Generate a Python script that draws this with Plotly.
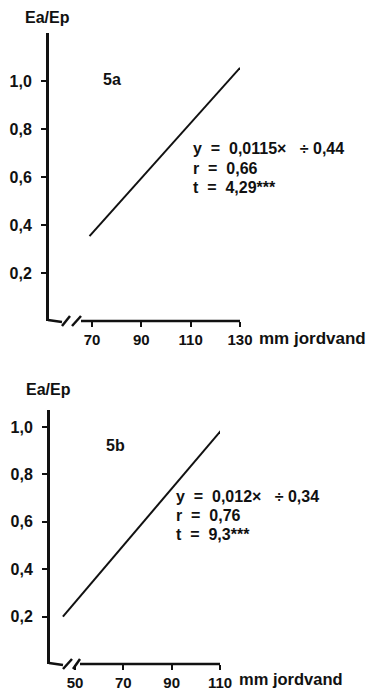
import plotly.graph_objects as go

W, H = 367, 690
FONT = "Liberation Sans, Arial, Helvetica, sans-serif"
INK = "#111111"
NB = "\u00a0"

# Panel 5a: regression line of Ea/Ep on soil water
a_xticks = [70, 90, 110, 130]
a_slope, a_intercept = 0.0115, 0.44
a_x = [69, 130]
a_lines = [f"y{NB}{NB}={NB}{NB}0,0115×{NB}{NB}{NB}÷{NB}0,44", f"r{NB}{NB}={NB}{NB}0,66", f"t{NB}{NB}={NB}{NB}4,29***"]

# Panel 5b
b_xticks = [50, 70, 90, 110]
b_slope, b_intercept = 0.012, 0.34
b_x = [45, 110.5]
b_lines = [f"y{NB}{NB}={NB}{NB}0,012×{NB}{NB}{NB}÷{NB}0,34", f"r{NB}{NB}={NB}{NB}0,76", f"t{NB}{NB}={NB}{NB}9,3***"]

y_ticks = [0.2, 0.4, 0.6, 0.8, 1.0]
y_text = ["0,2", "0,4", "0,6", "0,8", "1,0"]


def px(x):
    return x / W


def py(y):
    return 1 - y / H


fig = go.Figure()

a_y = [a_slope * v - a_intercept for v in a_x]
b_y = [b_slope * v - b_intercept for v in b_x]

fig.add_trace(go.Scatter(x=a_x, y=a_y, mode="lines", line=dict(color=INK, width=2),
                         xaxis="x", yaxis="y", showlegend=False, hoverinfo="skip"))
fig.add_trace(go.Scatter(x=b_x, y=b_y, mode="lines", line=dict(color=INK, width=2),
                         xaxis="x2", yaxis="y2", showlegend=False, hoverinfo="skip"))

ytickfont = dict(family=FONT, size=16, color=INK, weight="bold")
xtickfont = dict(family=FONT, size=15, color=INK, weight="bold")

common_y = dict(showline=True, linecolor=INK, linewidth=3, ticks="outside", ticklen=5,
                tickwidth=2, tickcolor=INK, tickvals=y_ticks, ticktext=y_text,
                tickfont=ytickfont, showgrid=False, zeroline=False, ticklabelstandoff=6,
                automargin=False)
common_x = dict(showline=False, ticks="outside", ticklen=5, tickwidth=2, tickcolor=INK,
                tickfont=xtickfont, showgrid=False, zeroline=False, automargin=False)

fig.update_layout(
    width=W, height=H,
    margin=dict(l=0, r=0, t=0, b=0, pad=0),
    paper_bgcolor="white", plot_bgcolor="white",
    xaxis=dict(domain=[px(49), px(240)], range=[52.57, 130], anchor="y",
               tickvals=a_xticks, ticktext=[str(v) for v in a_xticks], **common_x),
    yaxis=dict(domain=[py(321), py(33)], range=[0, 1.2], anchor="x", **common_y),
    xaxis2=dict(domain=[px(50), px(220)], range=[39.66, 110], anchor="y2",
                tickvals=b_xticks, ticktext=[str(v) for v in b_xticks], **common_x),
    yaxis2=dict(domain=[py(664), py(410)], range=[0, 1.072], anchor="x2", **common_y),
)

# Broken x axes drawn as segments with a double-slash break
shapes = []


def broken_axis(y0, left, brk, right):
    line = dict(color=INK, width=2.5)
    shapes.append(dict(type="line", xref="paper", yref="paper", x0=px(left), y0=py(y0 - 1),
                       x1=px(brk[0]), y1=py(y0 + 1), line=line))
    shapes.append(dict(type="line", xref="paper", yref="paper", x0=px(brk[0]), y0=py(y0 + 5),
                       x1=px(brk[1]), y1=py(y0 - 5), line=line))
    shapes.append(dict(type="line", xref="paper", yref="paper", x0=px(brk[2]), y0=py(y0 + 5),
                       x1=px(brk[3]), y1=py(y0 - 5), line=line))
    shapes.append(dict(type="line", xref="paper", yref="paper", x0=px(brk[3]), y0=py(y0),
                       x1=px(right), y1=py(y0), line=line))


broken_axis(321, 48, (62, 70, 72, 81), 240)
broken_axis(664, 49, (63, 72, 73, 80), 220)
fig.update_layout(shapes=shapes)

anns = []


def text(x, y, s, size=16):
    anns.append(dict(x=px(x), y=py(y), xref="paper", yref="paper", text=s, showarrow=False,
                     xanchor="left", yanchor="middle", borderpad=0,
                     font=dict(family=FONT, size=size, color=INK, weight="bold")))


# Panel 5a labels
text(24, 18, "Ea/Ep")
text(102, 80, "5a")
for i, s in enumerate(a_lines):
    text(192, 149 + 19 * i, s)
text(258, 338, "mm jordvand", 17)

# Panel 5b labels
text(25, 390, "Ea/Ep")
text(105, 445, "5b")
for i, s in enumerate(b_lines):
    text(175, 496 + 19 * i, s)
text(238, 679, "mm jordvand", 16.5)

fig.update_layout(annotations=anns)

fig.write_html("out.html")
